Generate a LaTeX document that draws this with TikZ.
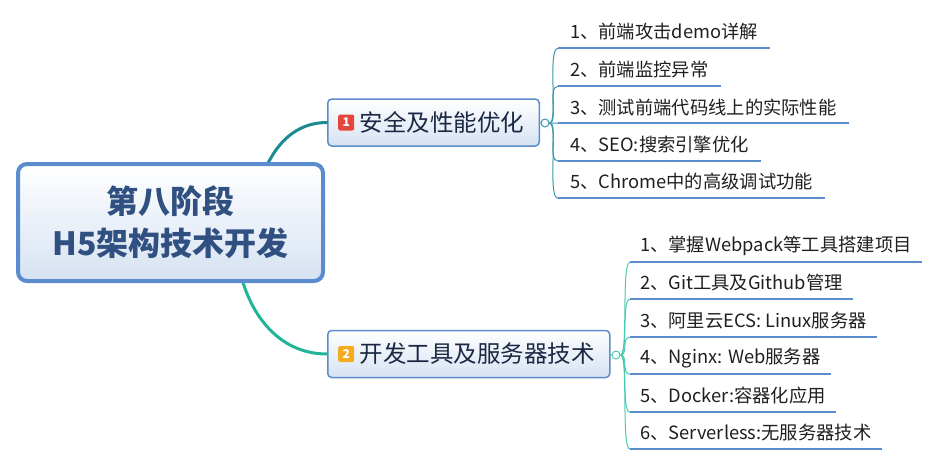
\documentclass[tikz,border=0pt]{standalone}
\usepackage{fontspec}
\setmainfont{Noto Sans CJK SC}
\usetikzlibrary{positioning}
\begin{document}
\begin{tikzpicture}[x=1pt,y=-1pt]
	\definecolor{bien}{RGB}{91,140,205}
	\definecolor{chu}{RGB}{47,80,128}
	\definecolor{dam}{RGB}{27,40,68}
	\definecolor{nen}{RGB}{214,226,242}
	\definecolor{xanh}{RGB}{28,138,146}
	\definecolor{ngoc}{RGB}{34,180,150}
	\definecolor{lam}{RGB}{60,150,175}
	\definecolor{bac}{RGB}{76,200,176}
	\definecolor{do}{RGB}{229,69,61}
	\definecolor{cam}{RGB}{246,172,31}
	\tikzset{
		goc/.style={draw=bien,line width=4,rounded corners=9,top color=white,bottom color=nen,
			minimum width=305,minimum height=117,align=center,text=chu,
			font=\fontsize{32}{42}\selectfont\bfseries},
		nhanh/.style={draw=bien,line width=1.5,rounded corners=4,top color=white,bottom color=nen,
			minimum height=47,inner xsep=15,anchor=west,text=dam,font=\fontsize{23.5}{26}\selectfont},
		so/.style={rounded corners=2,minimum size=16,inner sep=0,text=white,
			font=\fontsize{12}{12}\selectfont\bfseries},
		nut/.style={circle,draw,fill=white,line width=1,minimum size=8,inner sep=0},
		muc/.style={anchor=west,minimum height=32,inner xsep=12,inner ysep=0,text=black!88,
			font=\fontsize{18.3}{22}\selectfont},
		gach/.style={bien,line width=2.5},
		day/.style={line width=3,line cap=round}
	}
	\useasboundingbox (0,0) rectangle (942,464);
	
	%nhánh chính
	\coordinate (r1) at (258,190);
	\coordinate (r2) at (238,262);
	\node[nhanh] (b1) at (327,122.5) {\hspace*{17pt}安全及性能优化};
	\node[nhanh] (b2) at (327,354) {\hspace*{17pt}开发工具及服务器技术};
	\node[so,fill=do,right=11pt of b1.west] (i1) {1};
	\node[so,fill=cam,right=11pt of b2.west] (i2) {2};
	\draw[day,xanh] (r1) to[out=75,in=180] (b1.west);
	\draw[day,ngoc] (r2) to[out=-80,in=180] (b2.west);
	
	%gốc
	\node[goc] (root) at (170.5,222.5) {第八阶段\\H5架构技术开发};
	
	%nút thu gọn
	\node[nut,draw=lam] (n1) at (545,123) {};
	\node[nut,draw=bac] (n2) at (616,355) {};
	\draw[lam,line width=1] (b1.east) -- (n1.west);
	\draw[bac,line width=1] (b2.east) -- (n2.west);
	
	%nhóm 1
	\foreach \i/\y/\noidung in {
		1/32/1、前端攻击demo详解,
		2/70/2、前端监控异常,
		3/107/3、测试前端代码线上的实际性能,
		4/145/4、SEO:搜索引擎优化,
		5/182/5、Chrome中的高级调试功能
	}{
		\node[muc] (s\i) at (558,\y) {\noidung};
		\draw[lam,line width=1] (n1.east) .. controls +(9,0) and +(-11,0) .. (s\i.south west);
		\draw[gach] (s\i.south west) -- (s\i.south east);
	}
	
	%nhóm 2
	\foreach \i/\y/\noidung in {
		1/246/1、掌握Webpack等工具搭建项目,
		2/283/2、Git工具及Github管理,
		3/321/3、阿里云ECS: Linux服务器,
		4/358/4、Nginx: Web服务器,
		5/396/5、Docker:容器化应用,
		6/433/6、Serverless:无服务器技术
	}{
		\node[muc,inner xsep=10] (t\i) at (630,\y) {\noidung};
		\draw[bac,line width=1] (n2.east) .. controls +(8,0) and +(-9,0) .. (t\i.south west);
		\draw[gach] (t\i.south west) -- (t\i.south east);
	}
\end{tikzpicture}
\end{document}
